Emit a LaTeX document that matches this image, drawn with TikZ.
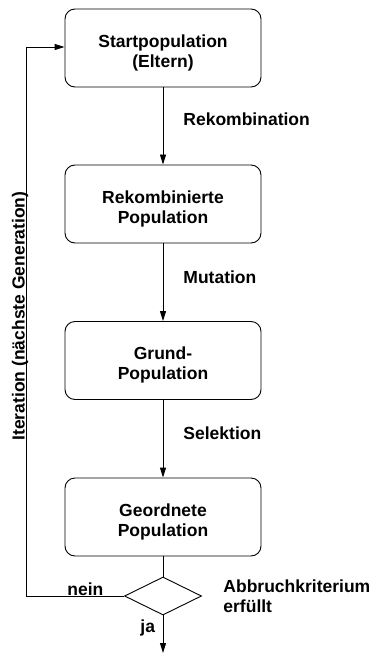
\documentclass[tikz,border=0pt]{standalone}
\usepackage{fontspec}
\setmainfont{Liberation Sans}
\usetikzlibrary{arrows.meta,shapes.geometric}
\begin{document}
\begin{tikzpicture}[x=1pt,y=-1pt,
  font=\fontsize{17.5}{20}\selectfont\bfseries,
  line width=0.9pt,
  stagebox/.style={draw, rounded corners=10pt, minimum width=196pt, minimum height=78pt,
    inner sep=0pt},
  stagetext/.style={align=center, inner sep=0pt},
  decision/.style={draw, diamond, aspect=2, minimum width=77pt, minimum height=38pt, inner sep=0pt},
  flow/.style={-{Triangle[length=10pt,width=6pt]}},
  lbl/.style={anchor=west, inner sep=0pt, align=left}]
\useasboundingbox (0,0) rectangle (375,655);

% process stages
\node[stagebox] (start) at (163,48) {};
\node[stagebox] (rekomb) at (163,204) {};
\node[stagebox] (grund) at (163,360.5) {};
\node[stagebox] (geord) at (163,517) {};
\node[stagetext] (tstart) at (163,52.5) {Startpopulation\\(Eltern)};
\node[stagetext] (trekomb) at (163,208.5) {Rekombinierte\\Population};
\node[stagetext] (tgrund) at (163,365) {Grund-\\Population};
\node[stagetext] (tgeord) at (163,521.5) {Geordnete\\Population};

% termination test
\node[decision] (crit) at (163,596) {};

\coordinate (out) at (163,653);
\coordinate (loopbot) at (26,596);
\coordinate (looptop) at (26,47);

\draw[flow] (start) -- (rekomb);
\draw[flow] (rekomb) -- (grund);
\draw[flow] (grund) -- (geord);
\draw (geord) -- (crit.north);
\draw[flow] (crit.south) -- (out);
\draw[flow] (crit.west) -- (loopbot) -- (looptop) -- (start.west |- looptop);

\node[lbl] (lrek) at (183,119) {Rekombination};
\node[lbl] (lmut) at (183,277) {Mutation};
\node[lbl] (lsel) at (183,433) {Selektion};
\node[lbl, anchor=north west] (lcrit) at (223,579) {Abbruchkriterium\\erfüllt};
\node[lbl] (lnein) at (67,589) {nein};
\node[lbl] (lja) at (140,628) {ja};
\node[rotate=90, inner sep=0pt] (liter) at (20,316) {Iteration (nächste Generation)};
\end{tikzpicture}
\end{document}
